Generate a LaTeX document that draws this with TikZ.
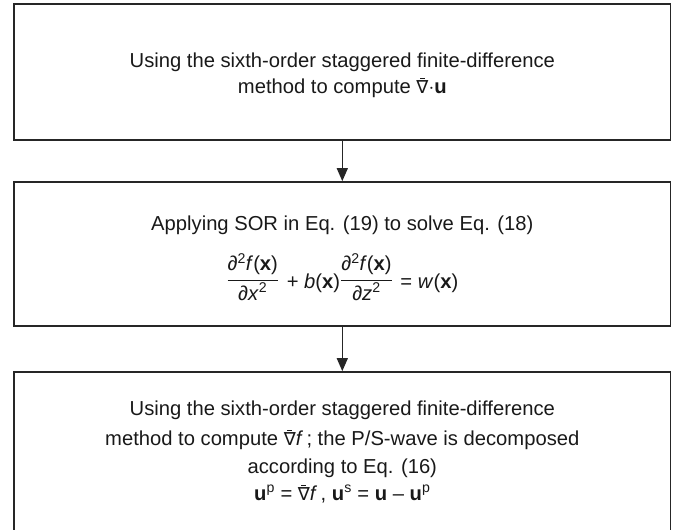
\documentclass[tikz,border=0pt]{standalone}
\usepackage{fontspec}
\setmainfont{Liberation Sans}
\newfontfamily\nablafont{DejaVu Sans}
\usetikzlibrary{arrows.meta}

% bold vector, italic scalar
\newcommand{\vb}[1]{\textbf{#1}}
\newcommand{\sca}[1]{\textit{#1}}
% nabla with a short rule above it (baseline kept on the nabla)
\newcommand{\nablabar}{\leavevmode\vbox{\offinterlineskip
  \setbox0\hbox{\nablafont\fontsize{18}{20}\selectfont ∇}%
  \hbox to\wd0{\hfil\rule{5pt}{1.3pt}\hfil}\kern1.2pt\box0}}
% display fraction: struts set the numerator and denominator distance from the bar
\newcommand{\dfr}[2]{\raisebox{3pt}{$\displaystyle\frac{\mbox{#1\rule[-7.2pt]{0pt}{0pt}}}{\mbox{\rule{0pt}{19pt}#2}}$}}

\tikzset{
  stepbox/.style={draw=black!85, line width=1.7pt, minimum width=656.5pt, inner sep=0pt},
  txt/.style={anchor=base, inner sep=0pt, font=\fontsize{20.2}{24}\selectfont, text=black!90},
  arr/.style={draw=black!85, line width=1.4pt, -{Triangle[length=13pt,width=11pt]}}
}

\begin{document}
\begin{tikzpicture}[x=1pt, y=-1pt]
  \useasboundingbox (0,0) rectangle (686,530);

  % the three stages
  \node[stepbox, minimum height=136pt] (b1) at (342.3,72) {};
  \node[stepbox, minimum height=144pt] (b2) at (342.3,254) {};
  \node[stepbox, minimum height=176pt] (b3) at (342.3,460) {};

  % stage 1
  \node[txt] (t1a) at (342.3,67) {Using the sixth-order staggered finite-difference};
  \node[txt] (t1b) at (342.3,93) {method to compute \nablabar$\cdot$\vb{u}};

  % stage 2
  \node[txt] (t2a) at (342.3,230) {Applying SOR in Eq. (19) to solve Eq. (18)};
  \node[txt] (t2b) at (342.3,288) {\dfr{∂\textsuperscript{2}\sca{f}(\vb{x})}{∂\sca{x}\textsuperscript{2}}\kern2pt{} + \sca{b}(\vb{x})\dfr{∂\textsuperscript{2}\sca{f}(\vb{x})}{∂\sca{z}\textsuperscript{2}}\kern2pt{} = \sca{w}(\vb{x})};

  % stage 3
  \node[txt] (t3a) at (342.3,415) {Using the sixth-order staggered finite-difference};
  \node[txt] (t3b) at (342.3,445) {method to compute \nablabar\sca{f}\,; the P/S-wave is decomposed};
  \node[txt] (t3c) at (342.3,473) {according to Eq. (16)};
  \node[txt] (t3d) at (342.3,500) {\vb{u}\textsuperscript{p} = \nablabar\sca{f}\,, \vb{u}\textsuperscript{s} = \vb{u} – \vb{u}\textsuperscript{p}};

  % flow
  \draw[arr] (b1.south) -- (b2.north);
  \draw[arr] (b2.south) -- (b3.north);
\end{tikzpicture}
\end{document}
